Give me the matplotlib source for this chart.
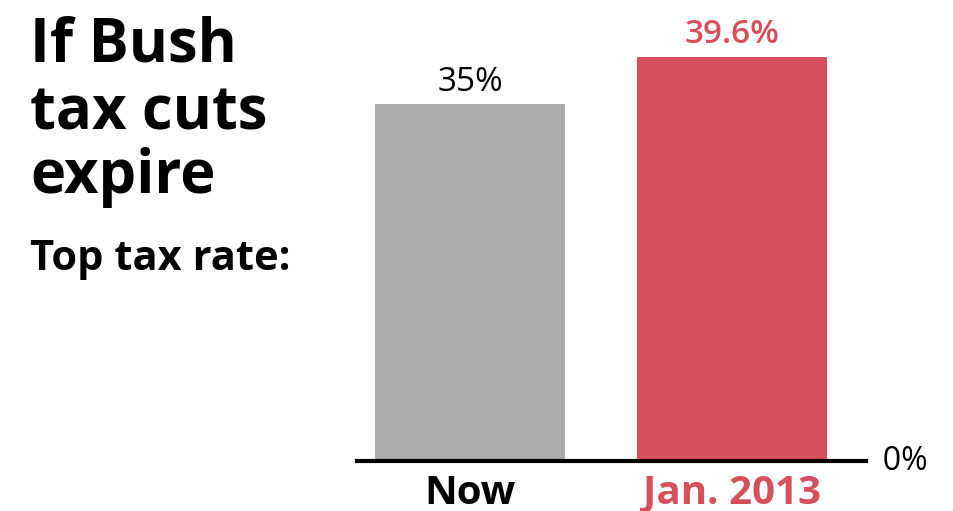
import matplotlib.pyplot as plt

labels = ['Now', 'Jan. 2013']
rates = [35, 39.6]
value_text = ['35%', '39.6%']
colors = ['#ababab', '#d6505c']

plt.rcParams['font.family'] = ['Open Sans', 'DejaVu Sans']

fig = plt.figure(figsize=(9.54, 5.11), dpi=100)
ax = fig.add_axes([357 / 954, 50 / 511, 509 / 954, 450 / 511])

x = range(len(rates))
ax.bar(x, rates, width=0.725, color=colors)
ax.set_xlim(-0.431, 1.511)
ax.set_ylim(0, 44.1)

# value labels above bars
ax.text(0, rates[0] + 0.5, value_text[0], ha='center', va='bottom',
        fontsize=24, color='black')
ax.text(1, rates[1] + 0.6, value_text[1], ha='center', va='bottom',
        fontsize=24, color=colors[1], fontweight='semibold')

for s in ['top', 'left', 'right']:
    ax.spines[s].set_visible(False)
ax.spines['bottom'].set_linewidth(3)
ax.set_yticks([])
ax.set_xticks(list(x))
ax.set_xticklabels(labels, fontsize=29, fontweight='bold')
ax.tick_params(axis='x', length=0, pad=9)
ax.get_xticklabels()[1].set_color(colors[1])
ax.text(1.511, 0, '  0%', ha='left', va='center', fontsize=23)

# headline on the left
fig.text(30 / 954, 1 - 62 / 511, 'If Bush', fontsize=43, fontweight='bold', va='baseline')
fig.text(30 / 954, 1 - 130 / 511, 'tax cuts', fontsize=43, fontweight='bold', va='baseline')
fig.text(30 / 954, 1 - 193 / 511, 'expire', fontsize=43, fontweight='bold', va='baseline')
fig.text(30 / 954, 1 - 270 / 511, 'Top tax rate:', fontsize=30, fontweight='bold', va='baseline')

fig.savefig('out.png', dpi=100)
